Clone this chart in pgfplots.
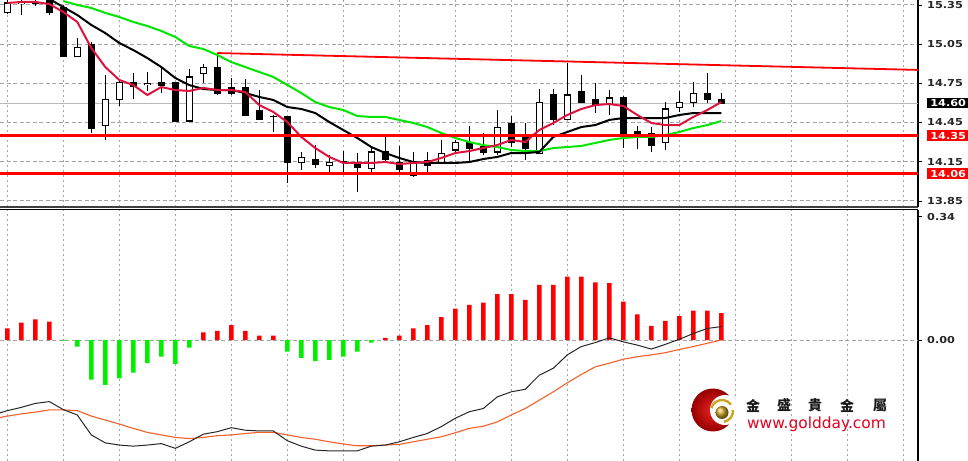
\documentclass[border=0pt]{standalone}
\usepackage{pgfplots}
\pgfplotsset{compat=1.18}
\usepackage{pgfplotstable}
\usepackage{fontspec}
\setmainfont{DejaVu Sans}
\newfontfamily\lblfont[FakeStretch=1.18]{DejaVu Sans}
\newfontfamily\cjk{Noto Sans CJK TC}

\definecolor{macrim}{RGB}{220,20,60}
\definecolor{malime}{RGB}{0,230,0}
\definecolor{sigor}{RGB}{245,95,40}
\definecolor{gridc}{RGB}{165,165,165}
\definecolor{gold}{RGB}{205,165,35}
\definecolor{urlred}{RGB}{228,0,30}

% candles: index, open, high, low, close
\pgfplotstableread{
i o h l c
0 15.289 15.400 15.280 15.365
1 15.360 15.400 15.270 15.370
2 15.370 15.390 15.340 15.360
3 15.400 15.410 15.270 15.290
4 15.327 15.350 14.950 14.952
5 14.959 15.097 14.950 15.021
6 15.051 15.070 14.370 14.408
7 14.424 14.814 14.317 14.630
8 14.630 14.783 14.577 14.760
9 14.760 14.829 14.630 14.730
10 14.740 14.837 14.692 14.750
11 14.760 14.868 14.676 14.737
12 14.753 14.760 14.462 14.462
13 14.462 14.860 14.460 14.799
14 14.822 14.898 14.753 14.868
15 14.868 14.982 14.661 14.669
16 14.715 14.791 14.661 14.676
17 14.715 14.783 14.508 14.508
18 14.539 14.699 14.477 14.477
19 14.500 14.508 14.378 14.493
20 14.493 14.500 13.988 14.141
21 14.148 14.225 14.087 14.186
22 14.171 14.278 14.102 14.133
23 14.118 14.202 14.064 14.148
24 14.152 14.232 14.064 14.148
25 14.141 14.217 13.919 14.110
26 14.102 14.263 14.049 14.225
27 14.232 14.340 14.141 14.164
28 14.141 14.271 14.049 14.095
29 14.049 14.225 14.033 14.141
30 14.156 14.225 14.056 14.125
31 14.141 14.317 14.141 14.210
32 14.240 14.317 14.217 14.294
33 14.294 14.424 14.148 14.248
34 14.263 14.370 14.202 14.225
35 14.225 14.546 14.202 14.416
36 14.439 14.500 14.263 14.301
37 14.340 14.447 14.164 14.255
38 14.217 14.707 14.217 14.607
39 14.661 14.707 14.431 14.470
40 14.477 14.906 14.477 14.661
41 14.684 14.814 14.607 14.607
42 14.623 14.753 14.523 14.584
43 14.592 14.699 14.508 14.638
44 14.638 14.653 14.255 14.347
45 14.378 14.424 14.248 14.340
46 14.370 14.416 14.225 14.278
47 14.294 14.607 14.240 14.554
48 14.569 14.692 14.531 14.600
49 14.607 14.760 14.569 14.669
50 14.676 14.829 14.600 14.630
51 14.630 14.676 14.600 14.600
}\candles

% moving averages: red, black, green
\pgfplotstableread{
i r k g
0 15.365 nan nan
1 15.373 nan nan
2 15.373 nan nan
3 15.357 15.396 nan
4 15.296 15.334 15.380
5 15.220 15.273 15.350
6 15.021 15.197 15.327
7 14.875 15.135 15.289
8 14.776 15.059 15.258
9 14.737 15.005 15.220
10 14.661 14.944 15.189
11 14.722 14.875 15.151
12 14.699 14.791 15.105
13 14.692 14.737 15.036
14 14.715 14.707 15.013
15 14.699 14.699 14.967
16 14.699 14.699 14.913
17 14.684 14.676 14.875
18 14.584 14.646 14.837
19 14.531 14.623 14.799
20 14.454 14.569 14.738
21 14.340 14.554 14.676
22 14.255 14.523 14.607
23 14.187 14.454 14.569
24 14.141 14.393 14.546
25 14.141 14.332 14.500
26 14.141 14.263 14.493
27 14.148 14.217 14.493
28 14.133 14.179 14.470
29 14.141 14.148 14.447
30 14.148 14.141 14.416
31 14.179 14.141 14.370
32 14.217 14.141 14.332
33 14.232 14.148 14.301
34 14.255 14.171 14.278
35 14.278 14.187 14.263
36 14.317 14.217 14.240
37 14.301 14.217 14.232
38 14.393 14.225 14.232
39 14.447 14.340 14.255
40 14.508 14.378 14.263
41 14.554 14.416 14.271
42 14.584 14.431 14.294
43 14.592 14.470 14.317
44 14.577 14.485 14.332
45 14.508 14.485 14.340
46 14.447 14.485 14.340
47 14.431 14.485 14.355
48 14.431 14.508 14.378
49 14.493 14.523 14.408
50 14.546 14.523 14.431
51 14.607 14.523 14.462
}\mas

% MACD: histogram, main line, signal
\pgfplotstableread{
i h m s
-0.52 0 -0.201 -0.214
0 0.032 -0.195 -0.210
1 0.048 -0.186 -0.204
2 0.057 -0.175 -0.199
3 0.051 -0.170 -0.193
4 -0.002 -0.192 -0.193
5 -0.018 -0.207 -0.195
6 -0.109 -0.262 -0.210
7 -0.124 -0.284 -0.221
8 -0.106 -0.290 -0.232
9 -0.090 -0.293 -0.244
10 -0.064 -0.290 -0.255
11 -0.046 -0.286 -0.262
12 -0.066 -0.299 -0.269
13 -0.021 -0.281 -0.272
14 0.021 -0.260 -0.269
15 0.025 -0.253 -0.264
16 0.041 -0.242 -0.262
17 0.025 -0.249 -0.258
18 0.012 -0.251 -0.255
19 0.012 -0.251 -0.255
20 -0.032 -0.278 -0.262
21 -0.049 -0.293 -0.269
22 -0.058 -0.304 -0.274
23 -0.055 -0.306 -0.281
24 -0.046 -0.306 -0.287
25 -0.032 -0.306 -0.292
26 -0.007 -0.293 -0.292
27 0.006 -0.290 -0.290
28 0.012 -0.281 -0.288
29 0.032 -0.269 -0.281
30 0.041 -0.258 -0.274
31 0.063 -0.239 -0.267
32 0.087 -0.216 -0.256
33 0.097 -0.198 -0.244
34 0.103 -0.189 -0.238
35 0.127 -0.157 -0.226
36 0.127 -0.143 -0.207
37 0.111 -0.136 -0.189
38 0.152 -0.097 -0.166
39 0.152 -0.078 -0.143
40 0.175 -0.041 -0.118
41 0.175 -0.018 -0.095
42 0.159 -0.007 -0.074
43 0.157 0.006 -0.064
44 0.106 -0.005 -0.053
45 0.071 -0.014 -0.046
46 0.039 -0.025 -0.041
47 0.053 -0.012 -0.035
48 0.066 0.002 -0.026
49 0.081 0.018 -0.018
50 0.081 0.032 -0.009
51 0.074 0.037 0.000
}\macd

\pgfplotsset{
  mt/.style={
    scale only axis, width=918bp,
    xmin=-0.521, xmax=65.05,
    xtick={0,4,...,64}, xticklabels={},
    x tick style={draw=none},
    tick align=outside, major tick length=4bp,
    y tick style={black, line width=0.8bp},
    yticklabel style={font=\lblfont\bfseries\fontsize{9.6}{10}\selectfont,
      text=black!85, inner sep=0pt, xshift=5bp,
      /pgf/number format/fixed,
      /pgf/number format/fixed zerofill,
      /pgf/number format/precision=2,
      /pgf/number format/assume math mode=true},
    xmajorgrids,
    x grid style={draw=gridc, line width=1.3bp, dash pattern=on 1.6bp off 3.4bp}
  },
  candle/.style={draw=none, mark=none,
    error bars/y dir=both, error bars/y explicit,
    error bars/error mark=none}
}

\begin{document}
\begin{tikzpicture}
\useasboundingbox (0,0) rectangle (968bp,461bp);

% ---------- price panel ----------
\begin{axis}[mt, at={(0,254bp)}, anchor=south west, height=207bp,
    ymin=13.804, ymax=15.388,
    ytick={13.85,14.15,14.45,14.75,15.05,15.35},
    axis x line*=bottom, axis y line*=right,
    x axis line style={black!75, line width=2bp},
    y axis line style={black, line width=1.2bp},
    ymajorgrids,
    y grid style={draw=gridc, line width=1bp, dash pattern=on 4bp off 2.5bp}]

% last price line
\addplot[gray!55, line width=0.8bp] coordinates {(-0.521,14.60) (65.05,14.60)};

% wicks
\addplot[candle, error bars/error bar style={draw=black, line width=1.3bp}]
  table[x=i, y expr={(\thisrow{h}+\thisrow{l})/2},
        y error expr={(\thisrow{h}-\thisrow{l})/2}] {\candles};
% bodies
\addplot[candle, error bars/error bar style={draw=black, line width=7.5bp}]
  table[x=i, y expr={(\thisrow{o}+\thisrow{c})/2},
        y error expr={abs(\thisrow{c}-\thisrow{o})/2+0.004}] {\candles};
% hollow bodies of rising candles
\addplot[candle, restrict expr to domain={\thisrow{c}-\thisrow{o}}{0.0085:10},
    error bars/error bar style={draw=white, line width=5.3bp}]
  table[x=i, y expr={(\thisrow{o}+\thisrow{c})/2},
        y error expr={(\thisrow{c}-\thisrow{o})/2-0.004}] {\candles};

% moving averages
\addplot[malime, line width=2bp] table[x=i, y=g] {\mas};
\addplot[black, line width=2bp] table[x=i, y=k] {\mas};
\addplot[macrim, line width=2bp] table[x=i, y=r] {\mas};

% support and resistance lines
\addplot[red, line width=2.3bp] coordinates {(-0.521,14.35) (65.05,14.35)};
\addplot[red, line width=2.1bp] coordinates {(-0.521,14.06) (65.05,14.06)};
\addplot[red, line width=1.8bp] coordinates {(15,14.982) (65.05,14.853)};

\coordinate (p60) at (axis cs:65.05,14.60);
\coordinate (p35) at (axis cs:65.05,14.35);
\coordinate (p06) at (axis cs:65.05,14.06);
\end{axis}

% ---------- MACD panel ----------
\begin{axis}[mt, at={(0,0)}, anchor=south west, height=251bp,
    ymin=-0.334, ymax=0.359,
    ytick={0.34}, extra y ticks={0},
    extra y tick style={ymajorgrids=true},
    axis x line*=top, axis y line*=right,
    x axis line style={black, line width=1bp},
    y axis line style={black, line width=1.2bp},
    ymajorgrids=false,
    y grid style={draw=gridc, line width=1bp, dash pattern=on 4bp off 2.5bp}]

\addplot[ybar, bar width=4.5bp, bar shift=0pt, fill=red, draw=none,
    restrict expr to domain={\thisrow{h}}{0.0005:1}]
  table[x=i, y=h] {\macd};
\addplot[ybar, bar width=4.5bp, bar shift=0pt, fill={rgb,255:red,0;green,240;blue,0}, draw=none,
    restrict expr to domain={\thisrow{h}}{-1:-0.0005}]
  table[x=i, y=h] {\macd};

\addplot[sigor, line width=1.1bp] table[x=i, y=s] {\macd};
\addplot[black!85, line width=1bp] table[x=i, y=m] {\macd};
\end{axis}

% price boxes on the scale
\begin{scope}[every node/.style={anchor=west, inner sep=0pt, minimum width=42bp,
    minimum height=10.5bp, text=white,
    font=\lblfont\bfseries\fontsize{9.6}{10}\selectfont}]
\node[fill=black] at ([xshift=9bp]p60) {14.60};
\node[fill=red] at ([xshift=9bp]p35) {14.35};
\node[fill=red] at ([xshift=9bp]p06) {14.06};
\end{scope}

% watermark logo
\shade[inner color={rgb,255:red,235;green,35;blue,35}, outer color={rgb,255:red,150;green,0;blue,0}]
  (713bp,51bp) circle (21.5bp);
\fill[white] (725bp,51bp) circle (15bp);
\draw[gold, line width=2.4bp] (722bp,50bp) ++(35:11bp) arc (35:165:11bp);
\draw[gold, line width=2.4bp] (722bp,50bp) ++(-80:11bp) arc (-80:5:11bp);
\shade[ball color=gold] (722bp,48.5bp) circle (6.5bp);
\begin{scope}[every node/.style={inner sep=0pt, text=black!90,
    font=\cjk\bfseries\fontsize{14}{14}\selectfont}]
\node at (753bp,55.5bp) {金};
\node at (784bp,55.5bp) {盛};
\node at (815bp,55.5bp) {貴};
\node at (847bp,55.5bp) {金};
\node at (880bp,55.5bp) {屬};
\end{scope}
\node[inner sep=0pt, text=urlred, font=\fontsize{15.5}{16}\selectfont]
  at (816.5bp,37bp) {www.goldday.com};
\end{tikzpicture}
\end{document}
